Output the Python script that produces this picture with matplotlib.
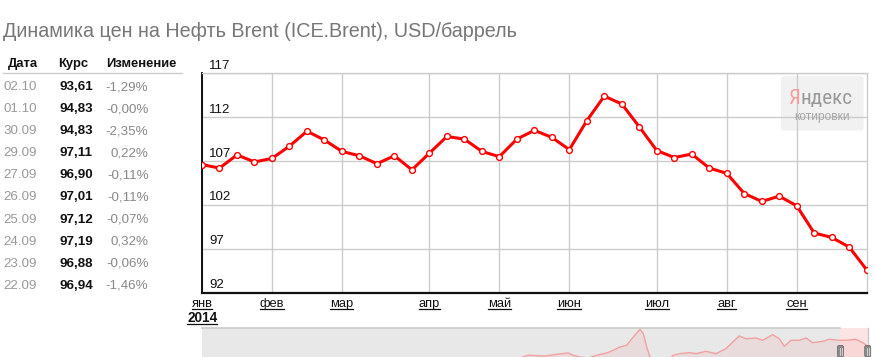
import math
import numpy as np
import matplotlib
matplotlib.use("Agg")
import matplotlib.pyplot as plt
from matplotlib import font_manager as fm
from matplotlib.patches import FancyBboxPatch, Rectangle
from matplotlib.lines import Line2D
from matplotlib.transforms import offset_copy

# ---------------- data ----------------
title = "Динамика цен на Нефть Brent (ICE.Brent), USD/баррель"

# weekly Brent prices, Jan 2014 .. Oct 2014
prices = [106.6, 106.2, 107.7, 106.9, 107.3, 108.7, 110.4, 109.4, 108.1, 107.6,
          106.7, 107.6, 106.0, 107.9, 109.8, 109.5, 108.1, 107.5, 109.5, 110.5,
          109.7, 108.3, 111.6, 114.4, 113.5, 110.9, 108.2, 107.4, 107.8, 106.2,
          105.6, 103.3, 102.4, 103.0, 101.9, 98.8, 98.3, 97.2, 94.6]
month_labels = ["янв", "фев", "мар", "апр", "май", "июн", "июл", "авг", "сен"]
month_idx = [0, 4, 8, 13, 17, 21, 26, 30, 34]
year_label = "2014"
y_ticks = [92, 97, 102, 107, 112, 117]

# table
tbl_headers = ["Дата", "Курс", "Изменение"]
tbl_dates = ["02.10", "01.10", "30.09", "29.09", "27.09", "26.09", "25.09", "24.09", "23.09", "22.09"]
tbl_rates = [93.61, 94.83, 94.83, 97.11, 96.90, 97.01, 97.12, 97.19, 96.88, 96.94]
tbl_changes = [-1.29, -0.00, -2.35, 0.22, -0.11, -0.11, -0.07, 0.32, -0.06, -1.46]

# navigator (long-history overview) series, relative time / relative level
nav_t = [313, 321, 326, 343, 354.7, 366.3, 371, 378, 386, 394.7, 404.7, 411.3, 418,
         424.7, 431.3, 438, 441.3, 444.7, 448, 453, 466, 471.3, 478, 487.3, 494, 504,
         514, 524, 530.7, 537.3, 544, 554, 560.7, 570.7, 577.3, 582.3, 589, 597.3, 604,
         610.7, 620.7, 627.3, 637.3, 644, 654, 660.7, 665.7]
nav_level = [-3, 0, 1.7, 1.0, 2.7, 4.0, 1.7, 0, -1, 1.7, 4.0, 6.7, 10, 11.7, 20, 27.7,
             23.3, 10, 0, -5, -3, 1.7, 3.3, 4.3, 3.3, 5.7, 3.3, 8.3, 15, 21, 18.3, 19,
             16.7, 22.3, 18.3, 10.7, 16.7, 16.7, 19, 14.3, 15.7, 17.7, 16.7, 16.7, 17.7,
             14.3, 11]

# ---------------- style ----------------
names = {f.name for f in fm.fontManager.ttflist}
FONT = "Liberation Sans" if "Liberation Sans" in names else "DejaVu Sans"
NARROW = FONT
for cand in ["Liberation Sans Narrow", "DejaVu Sans Condensed", "Roboto Condensed"]:
    if cand in names:
        NARROW = cand
        break
plt.rcParams["font.family"] = [FONT, "DejaVu Sans"]

W, H = 876, 357
fig = plt.figure(figsize=(W / 100, H / 100), dpi=100)
fig.patch.set_facecolor("white")


def fx(x):
    return x / W


def fy(y):
    return 1 - y / H


# title
fig.text(fx(3), fy(37), title, fontsize=14.2, color="#777777", ha="left", va="baseline")

# table
hdr_x = [8, 58, 106]
for hx, h in zip(hdr_x, tbl_headers):
    fig.text(fx(hx), fy(66.7), h, fontsize=9.4, fontweight="bold", color="#111111",
             ha="left", va="baseline")
fig.add_artist(Line2D([fx(3), fx(182)], [fy(73.3), fy(73.3)], transform=fig.transFigure,
                      color="#cccccc", lw=1.0))
for i, (d, r, c) in enumerate(zip(tbl_dates, tbl_rates, tbl_changes)):
    yb = 90 + 22.1 * i
    fig.text(fx(3), fy(yb), d, fontsize=9.6, color="#999999", ha="left", va="baseline")
    fig.text(fx(60), fy(yb), f"{r:.2f}".replace(".", ","), fontsize=9.6,
             fontweight="bold", color="#111111", ha="left", va="baseline")
    neg = math.copysign(1, c) < 0
    s = ("-" if neg else "") + f"{abs(c):.2f}".replace(".", ",") + "%"
    fig.text(fx(148.5), fy(yb), s, fontsize=9.6, color="#888888", ha="right", va="baseline")

# main axes
L, R, T, B = 202, 866.7, 73.3, 292.7
ax = fig.add_axes([fx(L), fy(B), (R - L) / W, (B - T) / H])
ax.patch.set_visible(False)
x = np.arange(len(prices))
ax.set_xlim(0, len(prices) - 1)
ax.set_ylim(y_ticks[0], y_ticks[-1])
ax.set_xticks(month_idx)
ax.set_yticks(y_ticks)
ax.tick_params(length=0, labelbottom=False, labelleft=False)
ax.set_axisbelow(True)
ax.grid(True, color="#cccccc", lw=1.0)
for s in ["top", "right"]:
    ax.spines[s].set_color("#cccccc")
    ax.spines[s].set_linewidth(1.0)
ax.spines["left"].set_color("#111111")
ax.spines["left"].set_linewidth(1.4)
ax.spines["bottom"].set_color("#111111")
ax.spines["bottom"].set_linewidth(1.6)

ax.plot(x, prices, color="#ff0000", lw=2.2, marker="o", ms=4.2, mfc="white",
        mec="#ff0000", mew=1.0, zorder=3, solid_joinstyle="round")

# y labels inside plot, above gridlines
ytrans = offset_copy(ax.get_yaxis_transform(), fig=fig, x=7, y=4.5, units="dots")
for v in y_ticks:
    ax.text(0, v, str(v), transform=ytrans, fontsize=9.5, color="#111111", ha="left",
            va="baseline", clip_on=False)

# month labels (underlined links)
mtrans = offset_copy(ax.get_xaxis_transform(), fig=fig, x=0, y=-(307 - B), units="dots")
month_texts = []
for i, lbl in zip(month_idx, month_labels):
    t = ax.text(i, 0, lbl, transform=mtrans, fontsize=9.3, color="#111111", ha="center",
                va="baseline", clip_on=False)
    month_texts.append((t, 309))
yt = fig.text(fx(187), fy(321.7), year_label, fontsize=9.8, fontweight="bold",
              color="#111111", ha="left", va="baseline")
month_texts.append((yt, 323.6))

# Yandex logo box
box = FancyBboxPatch((fx(781), fy(130.7)), fx(863.7) - fx(781), fy(76) - fy(130.7),
                     boxstyle="round,pad=0,rounding_size=0.006", transform=fig.transFigure,
                     facecolor="#f1f1f1", edgecolor="none", zorder=0.2, clip_on=False)
ax.add_patch(box)
logo_size = 19
ya = fig.text(fx(789), fy(104), "Я", fontsize=logo_size, family=[NARROW, "DejaVu Sans"],
              color="#ff9a9a", ha="left", va="baseline", zorder=5)
yb_txt = fig.text(fx(800), fy(104), "ндекс", fontsize=logo_size,
                  family=[NARROW, "DejaVu Sans"], color="#999999", ha="left",
                  va="baseline", zorder=5)
fig.text(fx(822.5), fy(120), "котировки", fontsize=8.6, color="#a5a5a5", ha="center",
         va="baseline", zorder=5)

# navigator
nav = fig.add_axes([fx(202), 0, (868 - 202) / W, (H - 328) / H])
nav.set_xlim(0, 666)
nav.set_ylim(0, 29)
nav.axis("off")
nav.add_patch(Rectangle((0, 0), 638, 29, facecolor="#e8e8e8", edgecolor="none", zorder=0))
nav.plot([0, 638], [28.7, 28.7], color="#cccccc", lw=1.2, zorder=1, clip_on=False)
nav.add_patch(Rectangle((638, 0), 28, 29, facecolor="#fde4e4", edgecolor="none", zorder=0))
nav.fill_between(nav_t, nav_level, -10, color="#f0a0a0", alpha=0.18, lw=0, zorder=2)
nav.plot(nav_t, nav_level, color="#f2a0a0", lw=1.0, zorder=3)
nav.plot([665.7, 665.7], [0, 29], color="#c8c8c8", lw=1.0, zorder=4, clip_on=False)
for hxp in [638.5, 665.7]:
    nav.add_patch(FancyBboxPatch((hxp - 3, 0), 6, 11.5,
                                 boxstyle="round,pad=0,rounding_size=1.5",
                                 facecolor="#8a8a8a", edgecolor="#6f6f6f", lw=0.6,
                                 zorder=5, clip_on=False))
    for dx in (-1, 1):
        nav.plot([hxp + dx, hxp + dx], [2, 9], color="#dddddd", lw=0.6, zorder=6,
                 clip_on=False)

# fit the logo word into its box width (789..853 px)
fig.canvas.draw()
r = fig.canvas.get_renderer()
w1 = ya.get_window_extent(renderer=r).width
w2 = yb_txt.get_window_extent(renderer=r).width
scale = 64.0 / (w1 + w2)
ya.set_fontsize(logo_size * scale)
yb_txt.set_fontsize(logo_size * scale)
fig.canvas.draw()
bb = ya.get_window_extent(renderer=r)
yb_txt.set_position((bb.x1 / W, fy(104)))

for t, uy in month_texts:
    bbt = t.get_window_extent(renderer=r)
    fig.add_artist(Line2D([bbt.x0 / W, bbt.x1 / W], [fy(uy), fy(uy)],
                          transform=fig.transFigure, color="#111111", lw=0.9))

fig.savefig("out.png", dpi=100, facecolor="white")
